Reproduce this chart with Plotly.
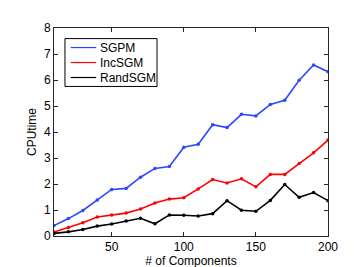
import plotly.graph_objects as go

components = [10, 20, 30, 40, 50, 60, 70, 80, 90, 100, 110, 120, 130, 140, 150, 160, 170, 180, 190, 200]
sgpm = [0.40, 0.67, 0.98, 1.38, 1.79, 1.83, 2.26, 2.60, 2.67, 3.41, 3.53, 4.28, 4.17, 4.68, 4.62, 5.06, 5.22, 5.99, 6.58, 6.32]
incsgm = [0.15, 0.33, 0.51, 0.73, 0.81, 0.88, 1.04, 1.27, 1.42, 1.47, 1.81, 2.17, 2.04, 2.20, 1.89, 2.37, 2.37, 2.79, 3.20, 3.69]
randsgm = [0.10, 0.16, 0.25, 0.38, 0.46, 0.58, 0.68, 0.47, 0.81, 0.80, 0.77, 0.86, 1.36, 0.99, 0.95, 1.37, 1.98, 1.49, 1.67, 1.36]

series_names = ["SGPM", "IncSGM", "RandSGM"]
series_values = [sgpm, incsgm, randsgm]
series_colors = ["#2a48ff", "#ff0000", "#000000"]
x_ticks = [50, 100, 150, 200]
y_ticks = [0, 1, 2, 3, 4, 5, 6, 7, 8]

fig = go.Figure()
for name, vals, col in zip(series_names, series_values, series_colors):
    fig.add_trace(go.Scatter(x=components, y=vals, mode="lines+markers", name=name,
                             line=dict(color=col, width=1.6),
                             marker=dict(color=col, size=3.5), showlegend=False))

axis_common = dict(showline=True, linecolor="#262626", linewidth=1, mirror="ticks",
                   ticks="inside", ticklen=4, tickcolor="#262626", showgrid=False,
                   zeroline=False, tickfont=dict(family="Liberation Sans, Arial", size=12, color="#000"))

# Legend box drawn in paper coordinates (MATLAB-style compact legend)
shapes = [dict(type="rect", xref="paper", yref="paper", x0=0.040, x1=0.376, y0=0.719, y1=0.949,
               line=dict(color="#000", width=1), fillcolor="white", layer="above")]
annotations = []
leg_y = [0.906, 0.834, 0.762]
for name, col, yy in zip(series_names, series_colors, leg_y):
    shapes.append(dict(type="line", xref="paper", yref="paper", x0=0.061, x1=0.154, y0=yy, y1=yy,
                       line=dict(color=col, width=1.2), layer="above"))
    annotations.append(dict(text=name, xref="paper", yref="paper", x=0.160, y=yy,
                            xanchor="left", yanchor="middle", showarrow=False,
                            font=dict(size=12, color="#000")))

fig.update_layout(
    width=354, height=267,
    margin=dict(l=46, r=34, t=20, b=30),
    plot_bgcolor="white", paper_bgcolor="white",
    font=dict(family="Liberation Sans, Arial", size=12, color="#000"),
    showlegend=False,
    xaxis=dict(range=[10, 200], tickvals=x_ticks,
               title=dict(text="# of Components", standoff=0, font=dict(size=12)),
               **axis_common),
    yaxis=dict(range=[0, 8], tickvals=y_ticks,
               title=dict(text="CPUtime", standoff=4, font=dict(size=12)),
               **axis_common),
    shapes=shapes,
    annotations=annotations,
)

fig.write_html("out.html")
